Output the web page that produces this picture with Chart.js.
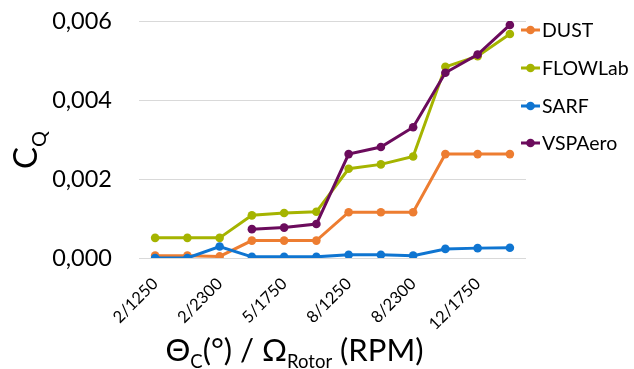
<!DOCTYPE html>
<html>
<head>
<meta charset="utf-8">
<script src="https://cdn.jsdelivr.net/npm/chart.js@4"></script>
<style>
  html, body { margin: 0; padding: 0; background: #fff; }
  #wrap { width: 634px; height: 369px; }
</style>
</head>
<body>
<div id="wrap"><canvas id="c" width="634" height="369"></canvas></div>
<script>
// Collective pitch (deg) / rotor speed (RPM) test cases
const categories = ['2/1250', '2/1750', '2/2300', '5/1250', '5/1750', '5/2300',
                    '8/1250', '8/1750', '8/2300', '12/1250', '12/1750', '12/2300'];

// Torque coefficient C_Q per solver
const dust    = [0.00006, 0.00006, 0.00004, 0.00044, 0.00044, 0.00044,
                 0.00116, 0.00116, 0.00116, 0.00263, 0.00263, 0.00263];
const flowlab = [0.00051, 0.00051, 0.00051, 0.00108, 0.00114, 0.00117,
                 0.00226, 0.00237, 0.00257, 0.00484, 0.00511, 0.00567];
const sarf    = [0.00000, 0.00000, 0.00029, 0.00003, 0.00003, 0.00003,
                 0.00008, 0.00008, 0.00006, 0.00023, 0.00025, 0.00026];
const vspaero = [null, null, null, 0.00073, 0.00077, 0.00086,
                 0.00263, 0.00281, 0.00331, 0.00469, 0.00515, 0.00590];

const seriesNames = ['DUST', 'FLOWLab', 'SARF', 'VSPAero'];
const yTicks = [0, 0.002, 0.004, 0.006];

const colors = ['#ED7D31', '#A5B400', '#0F75D1', '#6B0B5C'];
const FONT = 'Lato, "Open Sans", sans-serif';

function makeSet(i, data) {
  return {
    label: seriesNames[i],
    data: data,
    borderColor: colors[i],
    backgroundColor: colors[i],
    borderWidth: 3,
    pointRadius: 4.3,
    pointHoverRadius: 4.3,
    pointBorderWidth: 0,
    pointBackgroundColor: colors[i],
    tension: 0,
    spanGaps: false,
    order: 3 - i
  };
}

// Legend drawn as Excel-style line + marker entries
const sideLegend = {
  id: 'sideLegend',
  afterDraw(chart) {
    const ctx = chart.ctx;
    const x0 = 521, x1 = 540, tx = 542;
    const rows = [30, 68, 106, 143];
    ctx.save();
    seriesNames.forEach((name, i) => {
      const y = rows[i];
      ctx.strokeStyle = colors[i];
      ctx.lineWidth = 3;
      ctx.beginPath();
      ctx.moveTo(x0, y);
      ctx.lineTo(x1, y);
      ctx.stroke();
      ctx.fillStyle = colors[i];
      ctx.beginPath();
      ctx.arc((x0 + x1) / 2, y, 4.3, 0, Math.PI * 2);
      ctx.fill();
      ctx.fillStyle = '#000';
      ctx.font = '19.5px ' + FONT;
      ctx.textAlign = 'left';
      ctx.textBaseline = 'middle';
      ctx.fillText(name, tx, y + 1);
    });
    ctx.restore();
  }
};

// Axis titles with subscripts
function drawRuns(ctx, runs, x, y) {
  let cx = x;
  runs.forEach(r => {
    ctx.font = r.size + 'px ' + FONT;
    ctx.fillText(r.t, cx, y + (r.dy || 0));
    cx += ctx.measureText(r.t).width;
  });
}
function runsWidth(ctx, runs) {
  let w = 0;
  runs.forEach(r => { ctx.font = r.size + 'px ' + FONT; w += ctx.measureText(r.t).width; });
  return w;
}
const axisTitles = {
  id: 'axisTitles',
  afterDraw(chart) {
    const ctx = chart.ctx;
    ctx.save();
    ctx.fillStyle = '#000';
    ctx.textAlign = 'left';
    ctx.textBaseline = 'alphabetic';

    const xRuns = [
      { t: '\u0398', size: 31 },
      { t: 'C', size: 18.5, dy: 7 },
      { t: '(\u00B0) / \u03A9', size: 31 },
      { t: 'Rotor', size: 18.5, dy: 7 },
      { t: ' (RPM)', size: 31 }
    ];
    const wx = runsWidth(ctx, xRuns);
    drawRuns(ctx, xRuns, 294.5 - wx / 2, 361);

    const yRuns = [
      { t: 'C', size: 33 },
      { t: 'Q', size: 20, dy: 9 }
    ];
    const wy = runsWidth(ctx, yRuns);
    ctx.translate(37, 150);
    ctx.rotate(-Math.PI / 2);
    drawRuns(ctx, yRuns, -wy / 2, 0);
    ctx.restore();
  }
};

new Chart(document.getElementById('c'), {
  type: 'line',
  data: {
    labels: categories,
    datasets: [makeSet(0, dust), makeSet(1, flowlab), makeSet(2, sarf), makeSet(3, vspaero)]
  },
  options: {
    responsive: false,
    animation: false,
    events: [],
    layout: { padding: { top: 21, right: 108, left: 0, bottom: 0 } },
    plugins: {
      legend: { display: false },
      tooltip: { enabled: false }
    },
    scales: {
      x: {
        offset: true,
        grid: { display: false, drawTicks: false },
        border: { display: false },
        ticks: {
          autoSkip: false,
          maxRotation: 45,
          minRotation: 45,
          padding: 16,
          color: '#000',
          font: { family: FONT, size: 16.5 },
          callback: (v, i) => (i % 2 === 0 ? categories[i] : '')
        },
        afterFit(scale) { scale.height = 111; }
      },
      y: {
        min: yTicks[0],
        max: yTicks[yTicks.length - 1],
        grid: { color: '#D9D9D9', lineWidth: 1, drawTicks: true, tickLength: 27, tickColor: 'rgba(0,0,0,0)' },
        border: { display: false },
        afterBuildTicks(scale) { scale.ticks = yTicks.map(v => ({ value: v })); },
        ticks: {
          padding: 0,
          color: '#000',
          font: { family: FONT, size: 23.5 },
          callback: v => Number(v).toFixed(3).replace('.', ',')
        },
        afterFit(scale) { scale.width = 139; }
      }
    }
  },
  plugins: [sideLegend, axisTitles]
});
</script>
</body>
</html>
